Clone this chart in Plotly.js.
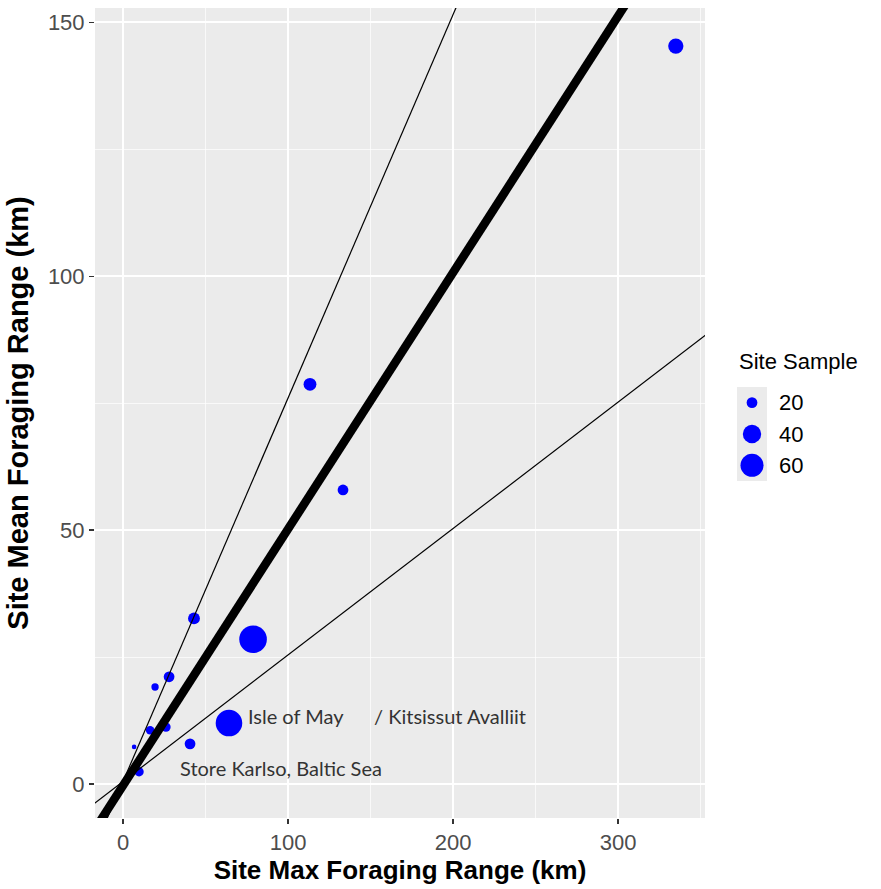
<!DOCTYPE html>
<html>
<head>
<meta charset="utf-8">
<script src="https://cdn.plot.ly/plotly-3.0.1.min.js"></script>
<style>html,body{margin:0;padding:0;background:#fff;}#chart{width:881px;height:889px;}</style>
</head>
<body>
<div id="chart"></div>
<script>
// ---- data ----
var siteMaxRange  = [335, 113.3, 133.3, 43, 78.8, 64.2, 40.6, 27.9, 19.4, 16.4, 26, 6.7, 9.7];
var siteMeanRange = [145.3, 78.7, 57.9, 32.6, 28.5, 12.0, 7.9, 21.1, 19.1, 10.6, 11.2, 7.3, 2.4];
var siteSample    = [30, 24, 20, 22, 85, 79, 20, 20, 16, 17, 18, 14, 18];

var legendSamples = [20, 40, 60];
var legendLabels  = ["20", "40", "60"];

// reference lines (slope, intercept)
var lineSlopes     = [0.505, 0.755, 0.249];
var lineIntercepts = [-0.3, 0.5, 0.5];

var siteNotes  = ["Isle of May", "/ Kitsissut Avalliit", "Store Karlso, Baltic Sea"];
var noteX      = [74.5, 150.9, 33.3];
var noteY      = [13.4, 13.4, 3.1];

var xTicks = [0, 100, 200, 300];
var yTicks = [0, 50, 100, 150];

// ---- size scale (ggplot-like area scale) ----
var nMin = 15, nMax = 85;
function sizePx(n) {
  var s = Math.sqrt(Math.max(0, (n - nMin) / (nMax - nMin)));
  return 4.6 * (1 + 5 * s);
}

var traces = [];
traces.push({
  type: 'scatter', mode: 'markers', x: siteMaxRange, y: siteMeanRange,
  marker: {color: '#0000ff', opacity: 1, size: siteSample.map(sizePx), line: {width: 0}},
  xaxis: 'x', yaxis: 'y', showlegend: false, hoverinfo: 'skip'
});
var lineWidths = [8.5, 1.2, 1.2];
var xEnds = [-25, 370];
for (var i = 0; i < lineSlopes.length; i++) {
  traces.push({
    type: 'scatter', mode: 'lines', x: xEnds,
    y: xEnds.map(function (x) { return lineSlopes[i] * x + lineIntercepts[i]; }),
    line: {color: '#000000', width: lineWidths[i]},
    xaxis: 'x', yaxis: 'y', showlegend: false, hoverinfo: 'skip'
  });
}
// custom legend markers
traces.push({
  type: 'scatter', mode: 'markers',
  x: legendSamples.map(function () { return 0.5; }),
  y: legendSamples.map(function (v, k) { return k; }),
  marker: {color: '#0000ff', opacity: 1, size: legendSamples.map(sizePx), line: {width: 0}},
  xaxis: 'x2', yaxis: 'y2', showlegend: false, hoverinfo: 'skip', cliponaxis: false
});

var W = 881, H = 889, mL = 95, mR = 10, mT = 8, mB = 71;
var pw = W - mL - mR, ph = H - mT - mB;
function px2fx(px) { return (px - mL) / pw; }
function py2fy(py) { return (H - mB - py) / ph; }

var shapes = legendSamples.map(function (v, k) {
  return {type: 'rect', xref: 'x2', yref: 'y2', x0: 0, x1: 1, y0: k - 0.48, y1: k + 0.48,
          fillcolor: '#ebebeb', line: {width: 0}, layer: 'below'};
});

var annotations = [];
for (var j = 0; j < siteNotes.length; j++) {
  annotations.push({xref: 'x', yref: 'y', x: noteX[j], y: noteY[j], text: siteNotes[j],
    showarrow: false, xanchor: 'left', yanchor: 'middle',
    font: {family: 'Lato, "Open Sans", sans-serif', size: 20, color: '#333333'}});
}
annotations.push({xref: 'paper', yref: 'paper', x: px2fx(737), y: py2fy(362), text: 'Site Sample',
  showarrow: false, xanchor: 'left', yanchor: 'middle',
  font: {family: '"Liberation Sans", Arial, sans-serif', size: 22, color: '#000000'}});
legendLabels.forEach(function (t, k) {
  annotations.push({xref: 'paper', yref: 'y2', x: px2fx(777), y: k, text: t,
    showarrow: false, xanchor: 'left', yanchor: 'middle',
    font: {family: '"Liberation Sans", Arial, sans-serif', size: 22, color: '#000000'}});
});

var tickFont = {family: '"Liberation Sans", Arial, sans-serif', size: 22, color: '#4d4d4d'};
var xTitleFont = {family: '"Liberation Sans", Arial, sans-serif', size: 26, color: '#000000', weight: 'bold'};
var yTitleFont = {family: '"Liberation Sans", Arial, sans-serif', size: 29, color: '#000000', weight: 'bold'};

var layout = {
  width: W, height: H,
  margin: {l: mL, r: mR, t: mT, b: mB, pad: 0},
  paper_bgcolor: '#ffffff', plot_bgcolor: '#ebebeb',
  showlegend: false,
  xaxis: {
    domain: [0, px2fx(705)], range: [-17, 352.7],
    tickvals: xTicks, ticktext: xTicks.map(String),
    ticks: 'outside', ticklen: 5, tickwidth: 1.2, tickcolor: '#333333',
    tickfont: tickFont, showgrid: true, gridcolor: '#ffffff', gridwidth: 1.5,
    minor: {dtick: 50, tick0: 0, showgrid: true, gridcolor: '#ffffff', gridwidth: 0.7, ticks: ''},
    zeroline: false, showline: false,
    title: {text: '<b>Site Max Foraging Range (km)</b>', font: xTitleFont, standoff: 4},
    automargin: false
  },
  yaxis: {
    domain: [0, 1], range: [-6.7, 152.8],
    tickvals: yTicks, ticktext: yTicks.map(String),
    ticks: 'outside', ticklen: 5, tickwidth: 1.2, tickcolor: '#333333',
    tickfont: tickFont, showgrid: true, gridcolor: '#ffffff', gridwidth: 1.5,
    minor: {dtick: 25, tick0: 0, showgrid: true, gridcolor: '#ffffff', gridwidth: 0.7, ticks: ''},
    zeroline: false, showline: false,
    title: {text: '<b>Site Mean Foraging Range (km)</b>', font: yTitleFont, standoff: 10},
    automargin: false
  },
  xaxis2: {domain: [px2fx(737), px2fx(767)], range: [0, 1], anchor: 'y2',
    showgrid: false, zeroline: false, showticklabels: false, ticks: '', showline: false},
  yaxis2: {domain: [py2fy(481), py2fy(387)], range: [2.5, -0.5], anchor: 'x2',
    showgrid: false, zeroline: false, showticklabels: false, ticks: '', showline: false},
  shapes: shapes,
  annotations: annotations
};

Plotly.newPlot('chart', traces, layout, {staticPlot: true, displayModeBar: false});
</script>
</body>
</html>
